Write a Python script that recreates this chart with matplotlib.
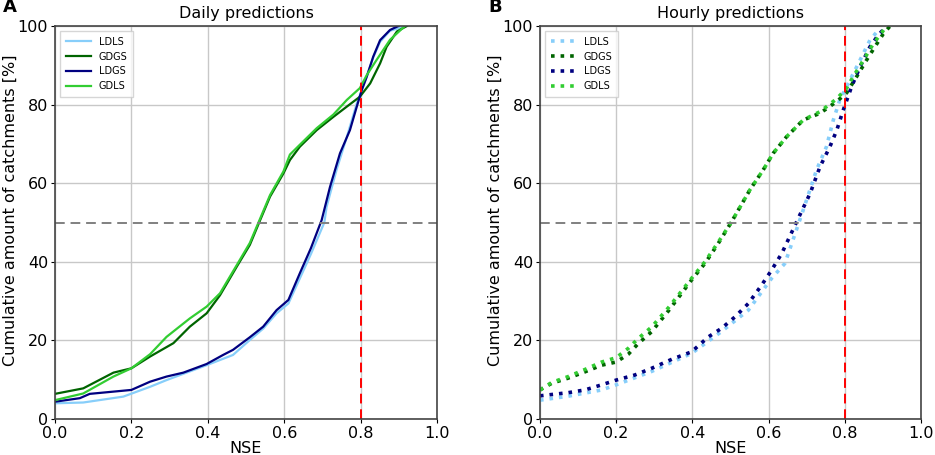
import matplotlib
matplotlib.use('Agg')
import matplotlib.pyplot as plt

matplotlib.rc('font', family='DejaVu Sans', size=11.5)

labels = ['LDLS', 'GDGS', 'LDGS', 'GDLS']
colors = ['#87cefa', '#006400', '#000080', '#32cd32']

# daily predictions (panel A): NSE vs cumulative % of catchments
daily_ldls_x = [0.0, 0.074, 0.179, 0.249, 0.292, 0.336, 0.397, 0.466, 0.51, 0.545, 0.58, 0.611, 0.641,
                0.67, 0.705, 0.711, 0.737, 0.764, 0.79, 0.803, 0.816, 0.833, 0.851, 0.877, 0.92]
daily_ldls_y = [4.0, 4.2, 5.7, 8.2, 9.9, 11.5, 13.7, 16.3, 20.1, 23.0, 26.9, 29.4, 35.8,
                42.0, 50.0, 54.0, 63.4, 71.8, 80.3, 83.7, 87.1, 92.0, 96.0, 98.8, 100.0]
daily_gdgs_x = [0.0, 0.074, 0.153, 0.2, 0.249, 0.31, 0.353, 0.397, 0.432, 0.476, 0.51, 0.537, 0.563,
                0.598, 0.615, 0.641, 0.685, 0.729, 0.764, 0.798, 0.825, 0.851, 0.868, 0.895, 0.921]
daily_gdgs_y = [6.4, 7.8, 11.8, 12.9, 15.9, 19.3, 23.5, 26.9, 31.5, 38.8, 44.3, 50.6, 56.6,
                62.5, 65.9, 69.3, 73.5, 76.9, 79.5, 82.0, 85.4, 90.5, 94.7, 98.6, 100.0]
daily_ldgs_x = [0.0, 0.065, 0.091, 0.2, 0.249, 0.292, 0.336, 0.397, 0.44, 0.466, 0.51, 0.545, 0.58,
                0.611, 0.641, 0.67, 0.698, 0.72, 0.746, 0.772, 0.79, 0.803, 0.816, 0.833, 0.851, 0.877, 0.899]
daily_ldgs_y = [4.4, 5.3, 6.4, 7.4, 9.5, 10.8, 11.8, 14.0, 16.3, 17.6, 20.8, 23.5, 27.7,
                30.3, 37.1, 43.5, 50.6, 59.1, 67.6, 73.5, 79.5, 83.7, 87.1, 92.2, 96.4, 99.0, 100.0]
daily_gdls_x = [0.0, 0.074, 0.153, 0.2, 0.249, 0.292, 0.353, 0.397, 0.432, 0.476, 0.51, 0.537, 0.563,
                0.598, 0.615, 0.641, 0.685, 0.729, 0.764, 0.798, 0.816, 0.842, 0.877, 0.916]
daily_gdls_y = [4.8, 6.5, 10.8, 12.9, 16.5, 20.9, 25.6, 28.6, 32.0, 39.2, 44.8, 51.0, 57.0,
                63.0, 67.3, 69.8, 74.0, 77.5, 81.2, 84.2, 87.5, 91.4, 96.5, 100.0]

# hourly predictions (panel B)
hourly_ldls_x = [0.0, 0.074, 0.162, 0.2, 0.293, 0.398, 0.477, 0.547, 0.608, 0.643, 0.691, 0.726,
                 0.752, 0.77, 0.787, 0.814, 0.84, 0.866, 0.892]
hourly_ldls_y = [4.8, 5.8, 7.4, 8.7, 12.1, 16.7, 22.3, 27.7, 35.8, 39.6, 53.2, 63.4,
                 69.3, 76.1, 81.2, 86.3, 91.3, 96.4, 99.4]
hourly_gdgs_x = [0.0, 0.031, 0.074, 0.118, 0.162, 0.2, 0.232, 0.258, 0.293, 0.337, 0.372, 0.398,
                 0.433, 0.468, 0.503, 0.551, 0.586, 0.612, 0.647, 0.691, 0.735, 0.779, 0.805,
                 0.831, 0.857, 0.879, 0.901, 0.919]
hourly_gdgs_y = [7.4, 9.1, 10.4, 12.0, 13.7, 14.5, 16.5, 19.2, 22.2, 27.5, 32.0, 35.4,
                 39.6, 44.7, 50.2, 58.3, 63.4, 67.6, 71.8, 76.1, 77.8, 80.8, 83.0,
                 87.1, 91.3, 94.7, 98.0, 100.0]
hourly_ldgs_x = [0.0, 0.074, 0.118, 0.162, 0.2, 0.249, 0.293, 0.346, 0.398, 0.442, 0.477, 0.512,
                 0.547, 0.582, 0.608, 0.635, 0.682, 0.709, 0.735, 0.761, 0.779, 0.796, 0.818,
                 0.84, 0.866, 0.888, 0.91]
hourly_ldgs_y = [5.9, 6.7, 7.4, 8.7, 9.9, 11.2, 12.9, 15.2, 17.1, 20.9, 23.1, 26.0,
                 29.4, 34.1, 37.9, 42.2, 51.9, 57.4, 64.2, 69.3, 73.5, 78.6, 84.6,
                 89.6, 94.7, 97.7, 100.0]
hourly_gdls_x = [0.0, 0.031, 0.074, 0.118, 0.162, 0.2, 0.232, 0.258, 0.293, 0.337, 0.372, 0.398,
                 0.433, 0.468, 0.503, 0.551, 0.586, 0.612, 0.647, 0.691, 0.735, 0.779, 0.805,
                 0.822, 0.849, 0.875, 0.91]
hourly_gdls_y = [7.4, 9.3, 10.8, 12.6, 14.5, 15.6, 18.0, 20.5, 23.4, 28.3, 32.6, 35.8,
                 40.0, 45.0, 50.2, 58.3, 63.4, 67.6, 71.8, 76.1, 78.2, 81.5, 84.2,
                 87.1, 91.3, 95.5, 100.0]

daily = [(daily_ldls_x, daily_ldls_y), (daily_gdgs_x, daily_gdgs_y),
         (daily_ldgs_x, daily_ldgs_y), (daily_gdls_x, daily_gdls_y)]
hourly = [(hourly_ldls_x, hourly_ldls_y), (hourly_gdgs_x, hourly_gdgs_y),
          (hourly_ldgs_x, hourly_ldgs_y), (hourly_gdls_x, hourly_gdls_y)]


def draw_panel(ax, curves, title, letter, dotted):
    for (x, y), lab, c in zip(curves, labels, colors):
        if dotted:
            ax.plot(x, y, color=c, label=lab, linestyle=':', linewidth=2.6)
        else:
            ax.plot(x, y, color=c, label=lab, linewidth=1.6)
    ax.axhline(50, color='grey', linestyle='--', linewidth=1.4, dashes=(5, 3))
    ax.axvline(0.8, color='red', linestyle='--', linewidth=1.4, dashes=(5, 3))
    ax.set_xlim(0, 1)
    ax.set_ylim(0, 100)
    ax.set_xticks([0.0, 0.2, 0.4, 0.6, 0.8, 1.0])
    ax.set_yticks([0, 20, 40, 60, 80, 100])
    ax.grid(True, color='#c8c8c8', linewidth=1.0)
    ax.set_axisbelow(True)
    ax.set_xlabel('NSE', labelpad=0)
    ax.set_ylabel('Cumulative amount of catchments [%]')
    ax.yaxis.set_label_coords(-0.097, 0.53)
    ax.set_title(title, fontsize=11.5, pad=6)
    for s in ax.spines.values():
        s.set_color('#444444')
        s.set_linewidth(1.2)
    ax.tick_params(length=3, pad=2)
    ax.legend(loc='upper left', fontsize=7, handlelength=2.6, borderpad=0.6,
              labelspacing=0.5, fancybox=False, edgecolor='#cccccc')
    ax.text(-0.135, 1.035, letter, transform=ax.transAxes, fontsize=13, fontweight='bold')


fig = plt.figure(figsize=(9.35, 4.55), dpi=100)
ax_a = fig.add_axes([0.0588, 0.0791, 0.4086, 0.8637])
ax_b = fig.add_axes([0.5775, 0.0791, 0.4075, 0.8637])

draw_panel(ax_a, daily, 'Daily predictions', 'A', False)
draw_panel(ax_b, hourly, 'Hourly predictions', 'B', True)

fig.savefig('out.png', dpi=100)
